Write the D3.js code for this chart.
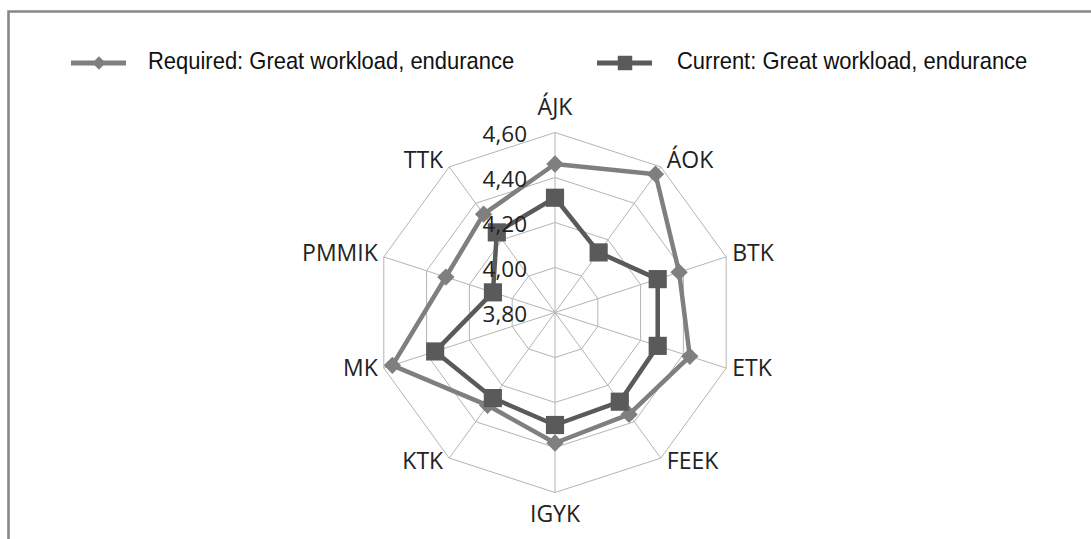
<!DOCTYPE html>
<html>
<head>
<meta charset="utf-8">
<script src="https://cdn.jsdelivr.net/npm/d3@7"></script>
<style>
  body { margin: 0; background: #fff; }
  svg { display: block; }
</style>
</head>
<body>
<div id="radar-chart"></div>
<script>
"use strict";

// chart data
var categories = ["ÁJK", "ÁOK", "BTK", "ETK", "FEEK", "IGYK", "KTK", "MK", "PMMIK", "TTK"];
var requiredValues = [4.46, 4.56, 4.38, 4.43, 4.36, 4.38, 4.31, 4.56, 4.31, 4.34];
var currentValues = [4.31, 4.13, 4.28, 4.28, 4.29, 4.30, 4.27, 4.36, 4.09, 4.24];
var tickValues = [3.80, 4.00, 4.20, 4.40, 4.60];
var seriesNames = ["Required: Great workload, endurance", "Current: Great workload, endurance"];

var width = 1091,
    height = 539,
    cx = 555,
    cy = 312.5,
    radius = 180;

var reqColor = "#7f7f7f",
    curColor = "#5a5a5a",
    gridColor = "#b4b4b4";

var r = d3.scaleLinear().domain([3.8, 4.6]).range([0, radius]);
var angle = d3.scaleLinear().domain([0, categories.length]).range([0, 2 * Math.PI]);

function fmt(v) { return d3.format(".2f")(v).replace(".", ","); }

var svg = d3.select("#radar-chart").append("svg")
    .attr("width", width)
    .attr("height", height);

// frame (only top and left visible)
svg.append("path")
    .attr("d", "M8.5," + height + "V11.5H" + width)
    .attr("fill", "none")
    .attr("stroke", "#888")
    .attr("stroke-width", 2.6);

var g = svg.append("g").attr("transform", "translate(" + cx + "," + cy + ")");

var radial = d3.lineRadial()
    .angle(function (d, i) { return angle(i); })
    .radius(function (d) { return r(d); })
    .curve(d3.curveLinearClosed);

// grid rings
g.selectAll(".ring")
    .data(tickValues.slice(1))
    .enter()
    .append("path")
    .attr("class", "ring")
    .attr("d", function (t) { return radial(categories.map(function () { return t; })); })
    .attr("fill", "none")
    .attr("stroke", gridColor)
    .attr("stroke-width", 1);

// spokes
g.selectAll(".spoke")
    .data(categories)
    .enter()
    .append("line")
    .attr("class", "spoke")
    .attr("x1", 0).attr("y1", 0)
    .attr("x2", function (d, i) { return r(4.6) * Math.sin(angle(i)); })
    .attr("y2", function (d, i) { return -r(4.6) * Math.cos(angle(i)); })
    .attr("stroke", gridColor)
    .attr("stroke-width", 1);

// category labels
g.selectAll(".cat")
    .data(categories)
    .enter()
    .append("text")
    .attr("class", "cat")
    .each(function (d, i) {
        var a = angle(i), s = Math.sin(a), c = Math.cos(a);
        var vx = r(4.6) * s, vy = -r(4.6) * c;
        var t = d3.select(this);
        if (Math.abs(s) < 0.1) {
            t.attr("text-anchor", "middle").attr("x", vx)
             .attr("y", c > 0 ? vy - 17.5 : vy + 29.5);
        } else {
            t.attr("text-anchor", s > 0 ? "start" : "end")
             .attr("x", vx + (s > 0 ? 6 : -6))
             .attr("y", vy - 2 - 6 * c)
             .attr("dy", "0.36em");
        }
    })
    .style("font-family", "'Open Sans', sans-serif")
    .style("font-size", "23px")
    .style("fill", "#222")
    .text(function (d) { return d; });

// series
var series = [
    { name: seriesNames[0], values: requiredValues, color: reqColor, symbol: "diamond" },
    { name: seriesNames[1], values: currentValues, color: curColor, symbol: "square" }
];

function marker(sel, type, big) {
    if (type === "diamond") {
        sel.attr("d", d3.symbol(d3.symbolSquare, big ? 150 : 90)())
           .attr("transform", function () { return d3.select(this).attr("transform") + " rotate(45)"; });
    } else {
        sel.attr("d", d3.symbol(d3.symbolSquare, big ? 330 : 210)());
    }
}

series.forEach(function (s) {
    g.append("path")
        .attr("d", radial(s.values))
        .attr("fill", "none")
        .attr("stroke", s.color)
        .attr("stroke-width", 4.5)
        .attr("stroke-linejoin", "round");
    g.selectAll(".m-" + s.symbol)
        .data(s.values)
        .enter()
        .append("path")
        .attr("class", "m-" + s.symbol)
        .attr("transform", function (d, i) {
            return "translate(" + (r(d) * Math.sin(angle(i))) + "," + (-r(d) * Math.cos(angle(i))) + ")";
        })
        .attr("fill", s.color)
        .call(marker, s.symbol, true);
});

// tick labels
g.selectAll(".tick")
    .data(tickValues)
    .enter()
    .append("text")
    .attr("class", "tick")
    .attr("x", -28)
    .attr("y", function (d) { return -r(d) + 1; })
    .attr("dy", "0.36em")
    .attr("text-anchor", "end")
    .style("font-family", "'Open Sans', sans-serif")
    .style("font-size", "22.5px")
    .style("fill", "#222")
    .text(function (d) { return fmt(d); });

// legend
var legendX = [71, 597];
var legend = svg.selectAll(".legend")
    .data(series)
    .enter()
    .append("g")
    .attr("class", "legend")
    .attr("transform", function (d, i) { return "translate(" + legendX[i] + ",63)"; });

legend.append("line")
    .attr("x1", 0).attr("x2", 55)
    .attr("stroke", function (d) { return d.color; })
    .attr("stroke-width", 5);

legend.append("path")
    .attr("transform", "translate(28,0)")
    .attr("fill", function (d) { return d.color; })
    .each(function (d) { d3.select(this).call(marker, d.symbol, false); });

// condensed legend text
legend.append("text")
    .attr("transform", function (d, i) { return "translate(" + (i === 0 ? 77 : 80) + ",5.5) scale(0.915,1)"; })
    .style("font-family", "'Liberation Sans', Arial, sans-serif")
    .style("font-size", "24px")
    .style("fill", "#111")
    .text(function (d) { return d.name; });
</script>
</body>
</html>
